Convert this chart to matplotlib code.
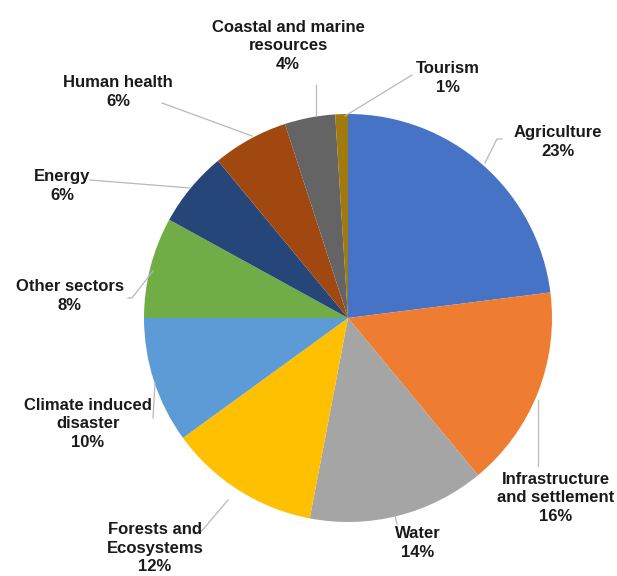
import matplotlib
matplotlib.use("Agg")
import matplotlib.pyplot as plt

sectors = ["Agriculture", "Infrastructure\nand settlement", "Water", "Forests and\nEcosystems",
           "Climate induced\ndisaster", "Other sectors", "Energy", "Human health",
           "Coastal and marine\nresources", "Tourism"]
shares = [23, 16, 14, 12, 10, 8, 6, 6, 4, 1]
colors = ["#4673C6", "#EE7D31", "#A5A5A5", "#FEC000", "#5C9BD6",
          "#70AD47", "#264579", "#A0480F", "#646464", "#A07A0C"]

# label positions (pixel coords, y from top) and leader line points
label_pos = [(558, 142), (556, 498), (418, 543), (155, 548), (88, 424),
             (70, 296), (62, 186), (118, 92), (288, 46), (448, 78)]
leaders = [
    [(502, 139), (497, 139), (485, 163)],
    [(538, 466), (538, 400)],
    [(397, 524), (395, 515)],
    [(193, 533), (200, 533), (228, 500)],
    [(153, 418), (155, 383)],
    [(128, 298), (132, 298), (153, 271)],
    [(90, 180), (190, 188)],
    [(162, 103), (252, 136)],
    [(316, 85), (316, 116)],
    [(412, 75), (345, 116)],
]

W, H = 617, 576
fig = plt.figure(figsize=(W / 100, H / 100), dpi=100)
ax = fig.add_axes([0, 0, 1, 1])

cx, cy, r = 348, 318, 204
ax.pie(shares, colors=colors, startangle=90, counterclock=False,
       center=(cx, H - cy), radius=r, frame=True,
       wedgeprops=dict(linewidth=0))
ax.set_xlim(0, W)
ax.set_ylim(0, H)
ax.set_aspect("equal")
ax.axis("off")

for pts in leaders:
    xs = [p[0] for p in pts]
    ys = [H - p[1] for p in pts]
    ax.plot(xs, ys, color="#b8b8b8", lw=0.9, zorder=1)

for name, val, (x, y) in zip(sectors, shares, label_pos):
    ax.text(x, H - y, f"{name}\n{val}%", ha="center", va="center",
            fontsize=12, fontweight="bold", family="Liberation Sans",
            color="#1a1a1a", linespacing=1.3)

fig.savefig("out.png", dpi=100, facecolor="white")
